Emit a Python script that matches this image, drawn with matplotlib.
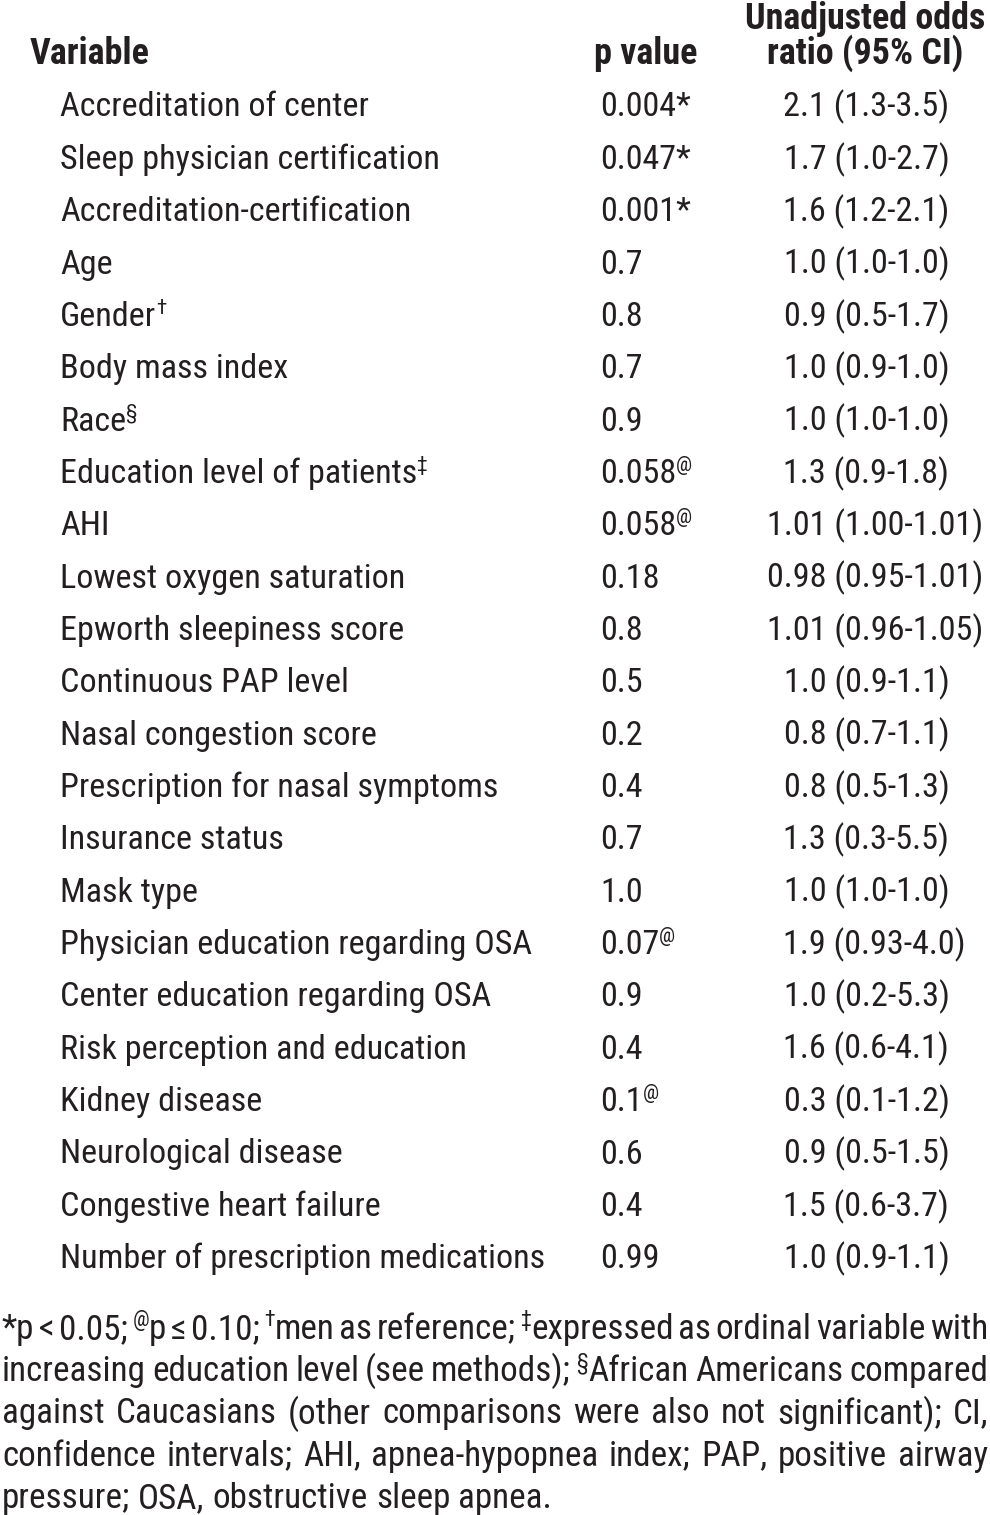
import matplotlib
matplotlib.use('Agg')
import os
import matplotlib.pyplot as plt
from matplotlib import font_manager as fm

# ---------------- data ----------------
variables = ['Accreditation of center', 'Sleep physician certification', 'Accreditation-certification',
             'Age', 'Gender†', 'Body mass index', 'Race§', 'Education level of patients‡', 'AHI',
             'Lowest oxygen saturation', 'Epworth sleepiness score', 'Continuous PAP level',
             'Nasal congestion score', 'Prescription for nasal symptoms', 'Insurance status', 'Mask type',
             'Physician education regarding OSA', 'Center education regarding OSA',
             'Risk perception and education', 'Kidney disease', 'Neurological disease',
             'Congestive heart failure', 'Number of prescription medications']
p_values = ['0.004*', '0.047*', '0.001*', '0.7', '0.8', '0.7', '0.9', '0.058@', '0.058@', '0.18', '0.8',
            '0.5', '0.2', '0.4', '0.7', '1.0', '0.07@', '0.9', '0.4', '0.1@', '0.6', '0.4', '0.99']
odds_ratios = ['2.1 (1.3-3.5)', '1.7 (1.0-2.7)', '1.6 (1.2-2.1)', '1.0 (1.0-1.0)', '0.9 (0.5-1.7)',
               '1.0 (0.9-1.0)', '1.0 (1.0-1.0)', '1.3 (0.9-1.8)', '1.01 (1.00-1.01)', '0.98 (0.95-1.01)',
               '1.01 (0.96-1.05)', '1.0 (0.9-1.1)', '0.8 (0.7-1.1)', '0.8 (0.5-1.3)', '1.3 (0.3-5.5)',
               '1.0 (1.0-1.0)', '1.9 (0.93-4.0)', '1.0 (0.2-5.3)', '1.6 (0.6-4.1)', '0.3 (0.1-1.2)',
               '0.9 (0.5-1.5)', '1.5 (0.6-3.7)', '1.0 (0.9-1.1)']
header_variable = 'Variable'
header_p = 'p value'
header_or = ['Unadjusted odds', 'ratio (95% CI)']
footnote_lines = [
    '*p < 0.05; @p ≤ 0.10; †men as reference; ‡expressed as ordinal variable with',
    'increasing education level (see methods); §African Americans compared',
    'against Caucasians (other comparisons were also not significant); CI,',
    'confidence intervals; AHI, apnea-hypopnea index; PAP, positive airway',
    'pressure; OSA, obstructive sleep apnea.',
]

# ---------------- style ----------------
W, H = 990, 1515
COLOR = '#231f20'
SUP = set('@†‡§')

fig = plt.figure(figsize=(W / 100, H / 100), dpi=100)
fig.patch.set_facecolor('white')
renderer = fig.canvas.get_renderer()


def pt(px):
    return px * 72.0 / 100.0


def is_narrow_file(path):
    b = os.path.basename(path).lower()
    return 'narrow' in b or 'cond' in b


# choose the narrowest available sans family (reference uses a narrow grotesque)
candidates = [('Liberation Sans Narrow', 'normal'), ('Arial Narrow', 'normal'),
              ('Roboto Condensed', 'normal'), ('Open Sans Condensed', 'normal'),
              ('Noto Sans', 'condensed'), ('Open Sans', 'condensed'), ('Roboto', 'condensed'),
              ('Liberation Sans', 'condensed')]
FAM = ['Liberation Sans', 'DejaVu Sans']
STRETCH = 'normal'
for fam, st in candidates:
    try:
        r = fm.findfont(fm.FontProperties(family=fam, stretch=st), fallback_to_default=False)
        b = fm.findfont(fm.FontProperties(family=fam, stretch=st, weight='bold'), fallback_to_default=False)
    except Exception:
        continue
    if is_narrow_file(r) and is_narrow_file(b):
        FAM = [fam, 'DejaVu Sans']
        STRETCH = st
        break


def split_runs(s):
    runs = []
    for ch in s:
        sup = ch in SUP
        if runs and runs[-1][1] == sup:
            runs[-1][0] += ch
        else:
            runs.append([ch, sup])
    return runs


def draw_runs(x, y, s, px, weight='normal', measure_only=False):
    """Draw string s (with superscript marks) starting at pixel x, baseline pixel y from top."""
    cx = x
    for txt, sup in split_runs(s):
        size = px * 0.62 if sup else px
        dy = px * 0.36 if sup else 0
        t = fig.text(cx / W, 1 - (y - dy) / H, txt, fontsize=pt(size), family=FAM, fontstretch=STRETCH,
                     weight=weight, color=COLOR, ha='left', va='baseline')
        cx += t.get_window_extent(renderer).width
        if measure_only:
            t.remove()
    return cx - x


def width(s, px, weight='normal'):
    return draw_runs(0, 0, s, px, weight, measure_only=True)


def calibrate(s, target, weight='normal'):
    return 30.0 * target / width(s, 30.0, weight)


# sizes calibrated against widths measured on the reference
ROW_PX = calibrate(odds_ratios[0], 166)
HEAD_PX = 0.5 * (calibrate(header_or[0], 246, 'bold') + calibrate(header_variable, 117, 'bold'))
FOOT_PX = calibrate(footnote_lines[-1], 551)

# ---------------- header ----------------
draw_runs(30, 64, header_variable, HEAD_PX, 'bold')
draw_runs(697 - width(header_p, HEAD_PX, 'bold'), 64, header_p, HEAD_PX, 'bold')
for i, line in enumerate(header_or):
    w = width(line, HEAD_PX, 'bold')
    draw_runs(865 - w / 2, 29 + i * 35, line, HEAD_PX, 'bold')

# ---------------- rows ----------------
row0 = 116.5
step = 52.35
paren_x = 834
for i, (v, p, o) in enumerate(zip(variables, p_values, odds_ratios)):
    y = row0 + i * step
    draw_runs(60, y, v, ROW_PX)
    draw_runs(600, y, p, ROW_PX)
    est = o.split(' (')[0]
    w = width(est + ' (', ROW_PX) - width('(', ROW_PX)
    draw_runs(paren_x - w, y, o, ROW_PX)

# ---------------- footnote (justified) ----------------
left, right = 2, 988
fy0 = 1339
fstep = 42.2
space_w = width('a a', FOOT_PX) - 2 * width('a', FOOT_PX)
for li, line in enumerate(footnote_lines):
    y = fy0 + li * fstep
    words = line.split(' ')
    widths = [width(wd, FOOT_PX) for wd in words]
    if li < len(footnote_lines) - 1 and len(words) > 1:
        gap = (right - left - sum(widths)) / (len(words) - 1)
    else:
        gap = space_w
    x = left
    for wd, ww in zip(words, widths):
        draw_runs(x, y, wd, FOOT_PX)
        x += ww + gap

fig.savefig('out.png', dpi=100, facecolor='white')
